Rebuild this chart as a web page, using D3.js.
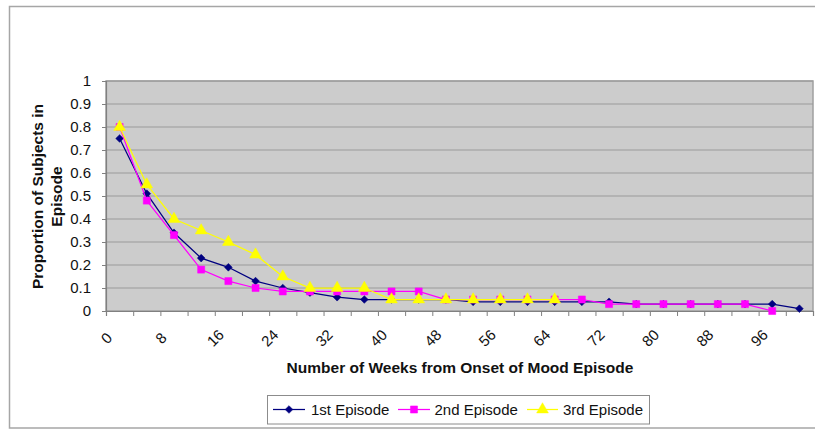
<!DOCTYPE html>
<html><head><meta charset="utf-8">
<script src="https://cdn.jsdelivr.net/npm/d3@7"></script>
<style>
html,body{margin:0;padding:0;background:#fff;}
svg{display:block;font-family:"Liberation Sans",Arial,sans-serif;}
</style></head>
<body><svg id="c" width="815" height="429"></svg>
<script>
const weeks = [0,4,8,12,16,20,24,28,32,36,40,44,48,52,56,60,64,68,72,76,80,84,88,92,96,100];
const tickLabels = ["0","8","16","24","32","40","48","56","64","72","80","88","96"];
const yTicks = [0,0.1,0.2,0.3,0.4,0.5,0.6,0.7,0.8,0.9,1];
const seriesNames = ["1st Episode","2nd Episode","3rd Episode"];
const ep1 = [0.75,0.51,0.34,0.23,0.19,0.13,0.10,0.08,0.06,0.05,0.05,0.05,0.05,0.04,0.04,0.04,0.04,0.04,0.04,0.03,0.03,0.03,0.03,0.03,0.03,0.01];
const ep2 = [0.80,0.48,0.33,0.18,0.13,0.10,0.085,0.085,0.085,0.085,0.085,0.085,0.05,0.05,0.05,0.05,0.05,0.05,0.03,0.03,0.03,0.03,0.03,0.03,0.00,null];
const ep3 = [0.80,0.55,0.40,0.35,0.30,0.245,0.15,0.10,0.10,0.10,0.05,0.05,0.05,0.05,0.05,0.05,0.05,null,null,null,null,null,null,null,null,null];

const svg = d3.select("#c");
const L = 106, R = 813, T = 81, B = 311;

// outer chart border
svg.append("rect").attr("x",9.5).attr("y",6.5).attr("width",820).attr("height",421.5)
  .attr("fill","#fff").attr("stroke","#a6a6a6").attr("stroke-width",1.5);

const x = d3.scaleBand().domain(weeks).range([L,R]).paddingInner(0).paddingOuter(0);
const xb = d3.scaleLinear().domain([0,weeks.length]).range([L,R]);
const y = d3.scaleLinear().domain([0,1]).range([B,T]);

// plot area
svg.append("rect").attr("x",L).attr("y",T).attr("width",R-L).attr("height",B-T)
  .attr("fill","#cccccc").attr("stroke","#a0a0a0").attr("stroke-width",1.5);

// gridlines
svg.append("g").selectAll("line").data(yTicks.filter(v=>v>0)).join("line")
  .attr("x1",L).attr("x2",R).attr("y1",d=>y(d)).attr("y2",d=>y(d))
  .attr("stroke","#999999").attr("stroke-width",1.2);

// y axis
const ya = svg.append("g").attr("transform",`translate(${L},0)`)
  .call(d3.axisLeft(y).tickValues(yTicks).tickSize(4).tickPadding(11).tickFormat(d=>d3.format("")(+d.toFixed(1))));
ya.select(".domain").attr("stroke","#808080").attr("stroke-width",1.2);
ya.selectAll(".tick line").attr("stroke","#808080");
ya.selectAll("text").attr("font-size","15px").attr("fill","#111").attr("font-family","Liberation Sans, Arial, sans-serif");

// x axis ticks at category boundaries
const xa = svg.append("g").attr("transform",`translate(0,${B})`)
  .call(d3.axisBottom(xb).tickValues(d3.range(weeks.length+1)).tickSize(5).tickFormat(""));
xa.select(".domain").attr("stroke","#808080").attr("stroke-width",1.2);
xa.selectAll(".tick line").attr("stroke","#808080");

// x labels (every other category)
svg.append("g").selectAll("text").data(tickLabels).join("text")
  .attr("transform",d=>`translate(${x(+d)+x.bandwidth()/2-13},338) rotate(-45)`)
  .attr("text-anchor","middle").attr("dy","0.35em")
  .attr("font-size","15px").attr("fill","#111").text(d=>d);

// titles
svg.append("text").attr("x",460).attr("y",373).attr("text-anchor","middle")
  .attr("font-size","15.5px").attr("font-weight","bold").attr("fill","#111")
  .text("Number of Weeks from Onset of Mood Episode");
const yt = svg.append("text").attr("transform","translate(0,196.5) rotate(-90)")
  .attr("text-anchor","middle").attr("font-size","15.5px").attr("font-weight","bold").attr("fill","#111");
yt.append("tspan").attr("x",0).attr("y",43).text("Proportion of Subjects in");
yt.append("tspan").attr("x",0).attr("y",62).text("Episode");

// series
const colors = ["#000080","#ff00ff","#ffff00"];
const shapes = [d3.symbolSquare, d3.symbolSquare, d3.symbolTriangle];
const sizes = [30, 50, 60];
const rot = [45, 0, 0];
const data = [ep1, ep2, ep3];
const cx = i => x(weeks[i]) + x.bandwidth()/2;
const line = d3.line().defined(d=>d.v!=null).x(d=>cx(d.i)).y(d=>y(d.v));

data.forEach((arr,k)=>{
  const pts = arr.map((v,i)=>({i,v}));
  svg.append("path").datum(pts).attr("d",line).attr("fill","none")
    .attr("stroke",colors[k]).attr("stroke-width",1.25);
  svg.append("g").selectAll("path").data(pts.filter(d=>d.v!=null)).join("path")
    .attr("transform",d=>`translate(${cx(d.i)},${y(d.v)}) rotate(${rot[k]})`)
    .attr("d",d3.symbol().type(shapes[k]).size(sizes[k]))
    .attr("fill",colors[k]).attr("stroke",colors[k]).attr("stroke-width",0.5);
});

// legend
const lg = svg.append("g");
lg.append("rect").attr("x",267.5).attr("y",395.5).attr("width",382).attr("height",28.5)
  .attr("fill","#fff").attr("stroke","#8c8c8c").attr("stroke-width",1);
const legX = [[273,305,289,311],[398,430,414,434.5],[527,558,542.5,563]];
seriesNames.forEach((n,k)=>{
  const [x1,x2,mx,tx] = legX[k];
  lg.append("line").attr("x1",x1).attr("x2",x2).attr("y1",409.5).attr("y2",409.5)
    .attr("stroke",colors[k]).attr("stroke-width",1.25);
  lg.append("path").attr("transform",`translate(${mx},409.5) rotate(${rot[k]})`)
    .attr("d",d3.symbol().type(shapes[k]).size(sizes[k])).attr("fill",colors[k]).attr("stroke",colors[k]).attr("stroke-width",0.5);
  lg.append("text").attr("x",tx).attr("y",414.5).attr("font-size","15px").attr("fill","#111").text(n);
});
</script></body></html>
